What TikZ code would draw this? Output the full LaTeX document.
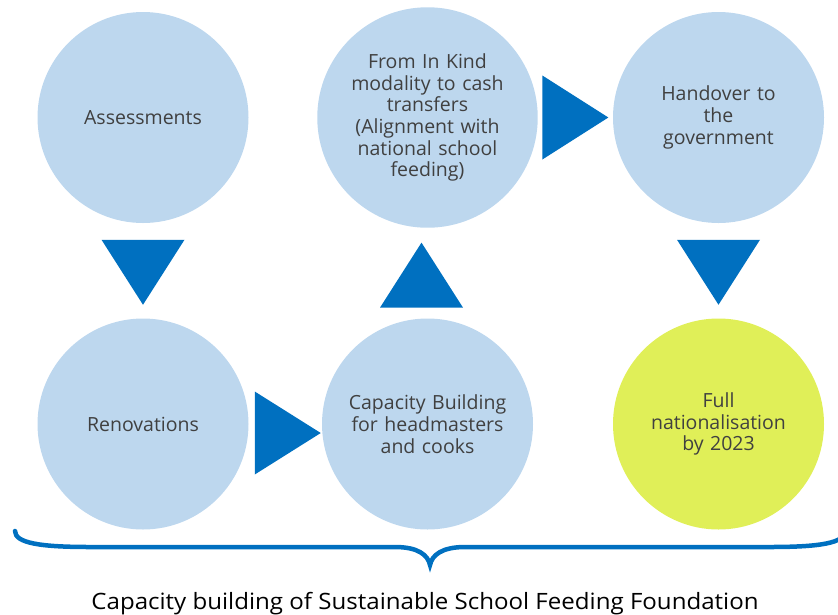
\documentclass[tikz,border=0pt]{standalone}
\usepackage{fontspec}
\setmainfont{Open Sans}
\newfontfamily\captionfont[FakeStretch=1.07]{Open Sans}
\usetikzlibrary{calc}
\definecolor{circblue}{HTML}{BDD7EE}
\definecolor{arrowblue}{HTML}{0070C0}
\definecolor{limeyellow}{HTML}{E0EF58}
\definecolor{textgray}{HTML}{404040}
\tikzset{
  stage/.style={circle, fill=circblue, draw=none, minimum size=211pt, inner sep=0pt,
    align=center, text=textgray, font=\fontsize{19.5}{21.7}\selectfont, text width=180pt},
  final/.style={stage, fill=limeyellow},
  arrowfill/.style={fill=arrowblue, draw=none},
  bracestyle/.style={draw=arrowblue, line width=4.5pt, line cap=round},
}
\begin{document}
\begin{tikzpicture}[x=1pt, y=-1pt]
\useasboundingbox (0,0) rectangle (838,614);
\node[stage] (A) at (143,117.5) {Assessments};
\node[stage] (B) at (143,424) {Renovations};
\node[stage] (C) at (427.5,424) {Capacity Building\\for headmasters\\and cooks};
\node[stage] (D) at (427.5,117.5) {From In Kind\\modality to cash\\transfers\\(Alignment with\\national school\\feeding)};
\node[stage] (E) at (718.5,117.5) {Handover to\\the\\government};
\node[final] (F) at (718.5,424) {Full\\nationalisation\\by 2023};
% down arrow A -> B
\coordinate (ab) at ($(A.south)!0.5!(B.north)+(0,1.5)$);
\fill[arrowfill] ($(ab)+(-41.5,-32.5)$) -- ($(ab)+(41.5,-32.5)$) -- ($(ab)+(0,32.5)$) -- cycle;
% right arrow B -> C
\coordinate (bc) at ($(B.east)!0.5!(C.west)+(2.5,9)$);
\fill[arrowfill] ($(bc)+(-33,-41.5)$) -- ($(bc)+(33,0)$) -- ($(bc)+(-33,41.5)$) -- cycle;
% up arrow C -> D
\coordinate (cd) at ($(C.north)!0.5!(D.south)+(-6,2)$);
\fill[arrowfill] ($(cd)+(-41.5,32.5)$) -- ($(cd)+(41.5,32.5)$) -- ($(cd)+(0,-32.5)$) -- cycle;
% right arrow D -> E
\coordinate (de) at ($(D.east)!0.5!(E.west)$);
\fill[arrowfill] ($(de)+(-33,-42)$) -- ($(de)+(33,0)$) -- ($(de)+(-33,42)$) -- cycle;
% down arrow E -> F
\coordinate (ef) at ($(E.south)!0.5!(F.north)+(0,1.5)$);
\fill[arrowfill] ($(ef)+(-41.5,-32.5)$) -- ($(ef)+(41.5,-32.5)$) -- ($(ef)+(0,32.5)$) -- cycle;
% brace
\coordinate (bl) at (15,531);
\coordinate (bt) at (430,565);
\coordinate (br) at (845,531);
\draw[bracestyle] (bl) .. controls (15,543) and (40,547) .. (90,547) -- (395,547)
  .. controls (418,547) and (428,555) .. (bt)
  .. controls (432,555) and (442,547) .. (465,547) -- (770,547)
  .. controls (820,547) and (845,543) .. (br);
\node[anchor=base, font=\captionfont\fontsize{22.5}{26}\selectfont, text=black, inner sep=0pt] (cap) at (425,609)
  {Capacity building of Sustainable School Feeding Foundation};
\end{tikzpicture}
\end{document}
